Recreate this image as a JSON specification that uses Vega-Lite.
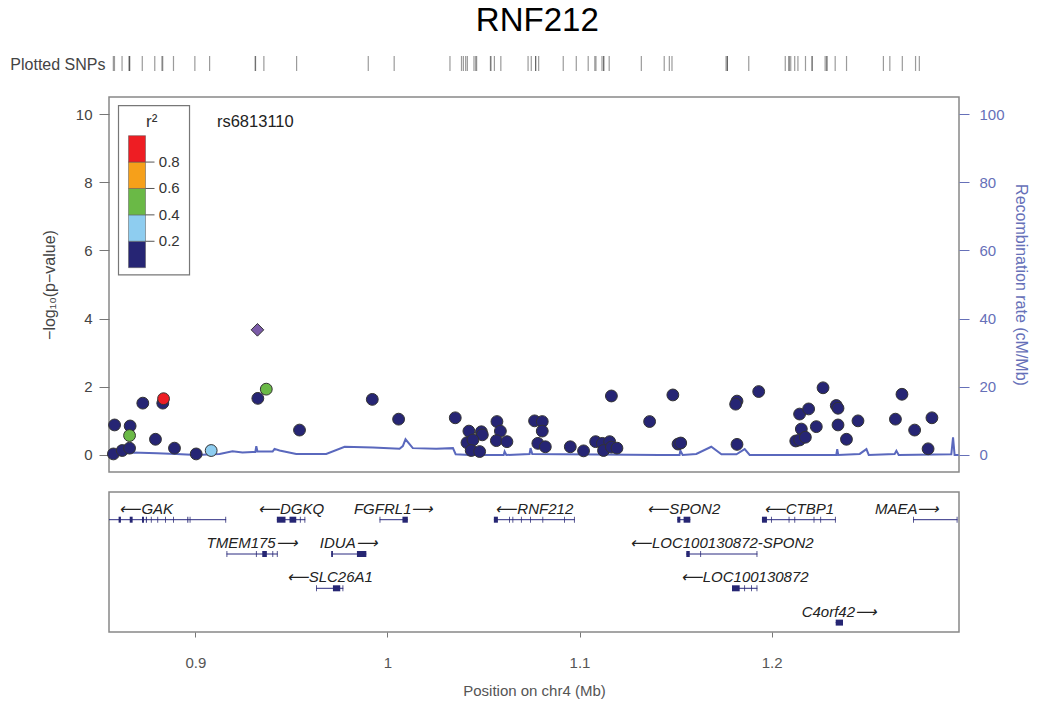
{
  "$schema": "https://vega.github.io/schema/vega-lite/v6.json",
  "padding": {"left": 9, "top": 5, "right": 5, "bottom": 5},
  "title": {"text": "RNF212", "fontSize": 33, "fontWeight": "normal", "anchor": "middle", "offset": 17, "dx": 18, "color": "#000000"},
  "spacing": 18,
  "datasets": {
    "snps": [
      {"pos": 0.8579, "logp": 0.88, "r2": 0.05},
      {"pos": 0.8573, "logp": 0.03, "r2": 0.05},
      {"pos": 0.8619, "logp": 0.13, "r2": 0.05},
      {"pos": 0.8657, "logp": 0.20, "r2": 0.05},
      {"pos": 0.8660, "logp": 0.85, "r2": 0.05},
      {"pos": 0.8657, "logp": 0.57, "r2": 0.5},
      {"pos": 0.8726, "logp": 1.52, "r2": 0.05},
      {"pos": 0.8830, "logp": 1.52, "r2": 0.05},
      {"pos": 0.8834, "logp": 1.65, "r2": 0.9},
      {"pos": 0.8792, "logp": 0.46, "r2": 0.05},
      {"pos": 0.8891, "logp": 0.20, "r2": 0.05},
      {"pos": 0.9004, "logp": 0.03, "r2": 0.05},
      {"pos": 0.9082, "logp": 0.13, "r2": 0.3},
      {"pos": 0.9325, "logp": 1.66, "r2": 0.05},
      {"pos": 0.9369, "logp": 1.93, "r2": 0.5},
      {"pos": 0.9542, "logp": 0.73, "r2": 0.05},
      {"pos": 0.9921, "logp": 1.63, "r2": 0.05},
      {"pos": 1.0058, "logp": 1.05, "r2": 0.05},
      {"pos": 1.0353, "logp": 1.09, "r2": 0.05},
      {"pos": 1.0424, "logp": 0.70, "r2": 0.05},
      {"pos": 1.0489, "logp": 0.68, "r2": 0.05},
      {"pos": 1.0494, "logp": 0.59, "r2": 0.05},
      {"pos": 1.0414, "logp": 0.36, "r2": 0.05},
      {"pos": 1.0445, "logp": 0.44, "r2": 0.05},
      {"pos": 1.0436, "logp": 0.13, "r2": 0.05},
      {"pos": 1.0480, "logp": 0.10, "r2": 0.05},
      {"pos": 1.0570, "logp": 0.98, "r2": 0.05},
      {"pos": 1.0588, "logp": 0.70, "r2": 0.05},
      {"pos": 1.0567, "logp": 0.42, "r2": 0.05},
      {"pos": 1.0622, "logp": 0.39, "r2": 0.05},
      {"pos": 1.0766, "logp": 1.00, "r2": 0.05},
      {"pos": 1.0806, "logp": 0.98, "r2": 0.05},
      {"pos": 1.0806, "logp": 0.70, "r2": 0.05},
      {"pos": 1.0783, "logp": 0.34, "r2": 0.05},
      {"pos": 1.0822, "logp": 0.24, "r2": 0.05},
      {"pos": 1.0952, "logp": 0.24, "r2": 0.05},
      {"pos": 1.1021, "logp": 0.12, "r2": 0.05},
      {"pos": 1.1084, "logp": 0.39, "r2": 0.05},
      {"pos": 1.1119, "logp": 0.34, "r2": 0.05},
      {"pos": 1.1157, "logp": 0.39, "r2": 0.05},
      {"pos": 1.1125, "logp": 0.13, "r2": 0.05},
      {"pos": 1.1166, "logp": 0.23, "r2": 0.05},
      {"pos": 1.1195, "logp": 0.20, "r2": 0.05},
      {"pos": 1.1166, "logp": 1.73, "r2": 0.05},
      {"pos": 1.1365, "logp": 0.98, "r2": 0.05},
      {"pos": 1.1486, "logp": 1.76, "r2": 0.05},
      {"pos": 1.1513, "logp": 0.32, "r2": 0.05},
      {"pos": 1.1527, "logp": 0.35, "r2": 0.05},
      {"pos": 1.1820, "logp": 1.58, "r2": 0.05},
      {"pos": 1.1813, "logp": 1.49, "r2": 0.05},
      {"pos": 1.1820, "logp": 0.31, "r2": 0.05},
      {"pos": 1.1933, "logp": 1.86, "r2": 0.05},
      {"pos": 1.2268, "logp": 1.97, "r2": 0.05},
      {"pos": 1.2146, "logp": 1.20, "r2": 0.05},
      {"pos": 1.2193, "logp": 1.35, "r2": 0.05},
      {"pos": 1.2268, "logp": 0.71, "r2": null},
      {"pos": 1.2155, "logp": 0.76, "r2": 0.05},
      {"pos": 1.2233, "logp": 0.83, "r2": 0.05},
      {"pos": 1.2126, "logp": 0.41, "r2": 0.05},
      {"pos": 1.2146, "logp": 0.44, "r2": 0.05},
      {"pos": 1.2176, "logp": 0.52, "r2": 0.05},
      {"pos": 1.2337, "logp": 1.45, "r2": 0.05},
      {"pos": 1.2346, "logp": 1.37, "r2": 0.05},
      {"pos": 1.2346, "logp": 0.88, "r2": 0.05},
      {"pos": 1.2390, "logp": 0.46, "r2": 0.05},
      {"pos": 1.2450, "logp": 1.00, "r2": 0.05},
      {"pos": 1.2679, "logp": 1.78, "r2": 0.05},
      {"pos": 1.2645, "logp": 1.05, "r2": 0.05},
      {"pos": 1.2745, "logp": 0.73, "r2": 0.05},
      {"pos": 1.2835, "logp": 1.09, "r2": 0.05},
      {"pos": 1.2815, "logp": 0.18, "r2": 0.05},
      {"pos": 0.9323, "logp": 3.67, "r2": 1, "lead": true, "snp": "rs6813110"}
    ],
    "recomb": [
      {"pos": 0.8550, "rate": 0.4}, {"pos": 0.8600, "rate": 0.6}, {"pos": 0.8672, "rate": 0.7},
      {"pos": 0.8800, "rate": 0.5}, {"pos": 0.8900, "rate": 0.3}, {"pos": 0.9004, "rate": 0.0},
      {"pos": 0.9126, "rate": 0.3}, {"pos": 0.9193, "rate": 1.1}, {"pos": 0.9245, "rate": 0.7},
      {"pos": 0.9297, "rate": 0.9}, {"pos": 0.9312, "rate": 0.9}, {"pos": 0.9317, "rate": 2.6},
      {"pos": 0.9323, "rate": 1.0}, {"pos": 0.9402, "rate": 1.0}, {"pos": 0.9412, "rate": 1.8},
      {"pos": 0.9438, "rate": 1.3}, {"pos": 0.9525, "rate": 0.3}, {"pos": 0.9681, "rate": 0.3},
      {"pos": 0.9777, "rate": 2.4}, {"pos": 0.9924, "rate": 2.2}, {"pos": 1.0063, "rate": 1.8},
      {"pos": 1.0080, "rate": 2.6}, {"pos": 1.0094, "rate": 4.6}, {"pos": 1.0132, "rate": 2.0},
      {"pos": 1.0254, "rate": 1.8}, {"pos": 1.0341, "rate": 2.0}, {"pos": 1.0355, "rate": 0.2},
      {"pos": 1.0428, "rate": 0.0}, {"pos": 1.0584, "rate": 0.0}, {"pos": 1.0605, "rate": 0.0},
      {"pos": 1.0610, "rate": 1.0}, {"pos": 1.0619, "rate": 0.0}, {"pos": 1.0740, "rate": 0.3},
      {"pos": 1.0745, "rate": 2.0}, {"pos": 1.0754, "rate": 0.3}, {"pos": 1.0896, "rate": 0.2},
      {"pos": 1.1104, "rate": 0.1}, {"pos": 1.1417, "rate": 0.0}, {"pos": 1.1521, "rate": 0.0},
      {"pos": 1.1525, "rate": 1.3}, {"pos": 1.1537, "rate": 0.0}, {"pos": 1.1608, "rate": 0.3},
      {"pos": 1.1686, "rate": 2.4}, {"pos": 1.1739, "rate": 0.2}, {"pos": 1.1817, "rate": 0.2},
      {"pos": 1.1860, "rate": 1.7}, {"pos": 1.1886, "rate": 0.0}, {"pos": 1.2025, "rate": 0.0},
      {"pos": 1.2337, "rate": 0.0}, {"pos": 1.2342, "rate": 1.7}, {"pos": 1.2347, "rate": 0.0},
      {"pos": 1.2459, "rate": 0.3}, {"pos": 1.2494, "rate": 1.7}, {"pos": 1.2506, "rate": 0.0},
      {"pos": 1.2641, "rate": 0.3}, {"pos": 1.2650, "rate": 1.2}, {"pos": 1.2662, "rate": 0.0},
      {"pos": 1.2936, "rate": 0.2}, {"pos": 1.2945, "rate": 5.2}, {"pos": 1.2953, "rate": 0.0},
      {"pos": 1.2974, "rate": 0.0}
    ],
    "ld": [
      {"lo": 0.0, "hi": 0.2},
      {"lo": 0.2, "hi": 0.4},
      {"lo": 0.4, "hi": 0.6},
      {"lo": 0.6, "hi": 0.8},
      {"lo": 0.8, "hi": 1.0}
    ],
    "genes": [
      {"gene": "GAK", "start": 0.8328, "end": 0.9160, "row": 1, "strand": "-"},
      {"gene": "DGKQ", "start": 0.9424, "end": 0.9572, "row": 1, "strand": "-"},
      {"gene": "FGFRL1", "start": 0.9959, "end": 1.0106, "row": 1, "strand": "+"},
      {"gene": "RNF212", "start": 1.0554, "end": 1.0975, "row": 1, "strand": "-"},
      {"gene": "SPON2", "start": 1.1509, "end": 1.1577, "row": 1, "strand": "-"},
      {"gene": "CTBP1", "start": 1.1950, "end": 1.2334, "row": 1, "strand": "-"},
      {"gene": "MAEA", "start": 1.2737, "end": 1.2968, "row": 1, "strand": "+"},
      {"gene": "TMEM175", "start": 0.9162, "end": 0.9428, "row": 2, "strand": "+"},
      {"gene": "IDUA", "start": 0.9707, "end": 0.9890, "row": 2, "strand": "+"},
      {"gene": "LOC100130872-SPON2", "start": 1.1556, "end": 1.1926, "row": 2, "strand": "-"},
      {"gene": "SLC26A1", "start": 0.9629, "end": 0.9770, "row": 3, "strand": "-"},
      {"gene": "LOC100130872", "start": 1.1794, "end": 1.1926, "row": 3, "strand": "-"},
      {"gene": "C4orf42", "start": 1.2334, "end": 1.2372, "row": 4, "strand": "+"}
    ],
    "exons": [
      {"gene": "GAK", "row": 1, "start": 0.8600, "end": 0.8612},
      {"gene": "GAK", "row": 1, "start": 0.8658, "end": 0.8673},
      {"gene": "GAK", "row": 1, "start": 0.8722, "end": 0.8732},
      {"gene": "GAK", "row": 1, "start": 0.8742, "end": 0.8747},
      {"gene": "GAK", "row": 1, "start": 0.8768, "end": 0.8772},
      {"gene": "GAK", "row": 1, "start": 0.8802, "end": 0.8806},
      {"gene": "GAK", "row": 1, "start": 0.8842, "end": 0.8846},
      {"gene": "GAK", "row": 1, "start": 0.8884, "end": 0.8888},
      {"gene": "GAK", "row": 1, "start": 0.8958, "end": 0.8963},
      {"gene": "GAK", "row": 1, "start": 0.8970, "end": 0.8974},
      {"gene": "GAK", "row": 1, "start": 0.9156, "end": 0.9160},
      {"gene": "DGKQ", "row": 1, "start": 0.9424, "end": 0.9469},
      {"gene": "DGKQ", "row": 1, "start": 0.9490, "end": 0.9525},
      {"gene": "DGKQ", "row": 1, "start": 0.9544, "end": 0.9548},
      {"gene": "DGKQ", "row": 1, "start": 0.9568, "end": 0.9572},
      {"gene": "FGFRL1", "row": 1, "start": 0.9959, "end": 0.9963},
      {"gene": "FGFRL1", "row": 1, "start": 1.0078, "end": 1.0106},
      {"gene": "RNF212", "row": 1, "start": 1.0554, "end": 1.0575},
      {"gene": "RNF212", "row": 1, "start": 1.0634, "end": 1.0638},
      {"gene": "RNF212", "row": 1, "start": 1.0651, "end": 1.0655},
      {"gene": "RNF212", "row": 1, "start": 1.0695, "end": 1.0699},
      {"gene": "RNF212", "row": 1, "start": 1.0743, "end": 1.0747},
      {"gene": "RNF212", "row": 1, "start": 1.0807, "end": 1.0811},
      {"gene": "RNF212", "row": 1, "start": 1.0920, "end": 1.0924},
      {"gene": "RNF212", "row": 1, "start": 1.0971, "end": 1.0975},
      {"gene": "SPON2", "row": 1, "start": 1.1509, "end": 1.1525},
      {"gene": "SPON2", "row": 1, "start": 1.1542, "end": 1.1577},
      {"gene": "CTBP1", "row": 1, "start": 1.1950, "end": 1.1976},
      {"gene": "CTBP1", "row": 1, "start": 1.1997, "end": 1.2001},
      {"gene": "CTBP1", "row": 1, "start": 1.2089, "end": 1.2093},
      {"gene": "CTBP1", "row": 1, "start": 1.2119, "end": 1.2123},
      {"gene": "CTBP1", "row": 1, "start": 1.2219, "end": 1.2223},
      {"gene": "CTBP1", "row": 1, "start": 1.2254, "end": 1.2258},
      {"gene": "CTBP1", "row": 1, "start": 1.2330, "end": 1.2334},
      {"gene": "MAEA", "row": 1, "start": 1.2737, "end": 1.2741},
      {"gene": "MAEA", "row": 1, "start": 1.2964, "end": 1.2968},
      {"gene": "TMEM175", "row": 2, "start": 0.9162, "end": 0.9166},
      {"gene": "TMEM175", "row": 2, "start": 0.9315, "end": 0.9319},
      {"gene": "TMEM175", "row": 2, "start": 0.9348, "end": 0.9372},
      {"gene": "TMEM175", "row": 2, "start": 0.9401, "end": 0.9405},
      {"gene": "TMEM175", "row": 2, "start": 0.9424, "end": 0.9428},
      {"gene": "IDUA", "row": 2, "start": 0.9707, "end": 0.9716},
      {"gene": "IDUA", "row": 2, "start": 0.9841, "end": 0.9890},
      {"gene": "LOC100130872-SPON2", "row": 2, "start": 1.1556, "end": 1.1574},
      {"gene": "LOC100130872-SPON2", "row": 2, "start": 1.1629, "end": 1.1633},
      {"gene": "LOC100130872-SPON2", "row": 2, "start": 1.1922, "end": 1.1926},
      {"gene": "SLC26A1", "row": 3, "start": 0.9629, "end": 0.9633},
      {"gene": "SLC26A1", "row": 3, "start": 0.9716, "end": 0.9754},
      {"gene": "SLC26A1", "row": 3, "start": 0.9766, "end": 0.9770},
      {"gene": "LOC100130872", "row": 3, "start": 1.1794, "end": 1.1834},
      {"gene": "LOC100130872", "row": 3, "start": 1.1858, "end": 1.1862},
      {"gene": "LOC100130872", "row": 3, "start": 1.1893, "end": 1.1897},
      {"gene": "LOC100130872", "row": 3, "start": 1.1922, "end": 1.1926},
      {"gene": "C4orf42", "row": 4, "start": 1.2334, "end": 1.2372}
    ]
  },
  "vconcat": [
    {
      "width": 837,
      "height": 22,
      "view": {"stroke": null},
      "data": {"name": "snps"},
      "mark": {"type": "rule", "color": "#222222", "opacity": 0.45, "strokeWidth": 1.2},
      "encoding": {
        "x": {"field": "pos", "type": "quantitative", "scale": {"domain": [0.855, 1.2976], "nice": false, "zero": false}, "axis": null},
        "y": {"datum": 1, "type": "quantitative", "scale": {"domain": [0, 1], "nice": false, "zero": false},
          "axis": {"title": "Plotted SNPs", "values": [], "domain": false, "ticks": false, "labels": false, "titleAngle": 0, "titleAlign": "right", "titleBaseline": "middle", "titleX": -4, "titleY": 8, "titleFontSize": 16, "titleColor": "#444444"}},
        "y2": {"datum": 0.32}
      }
    },
    {
      "width": 850,
      "height": 375,
      "layer": [
        {
          "data": {"name": "recomb"},
          "mark": {"type": "line", "color": "#5a68bd", "strokeWidth": 2},
          "encoding": {
            "x": {"field": "pos", "type": "quantitative", "scale": {"domain": [0.855, 1.2976], "nice": false, "zero": false}, "axis": null},
            "y": {"field": "rate", "type": "quantitative", "scale": {"domain": [-5, 105], "nice": false, "zero": false},
              "axis": {"orient": "right", "values": [0, 20, 40, 60, 80, 100], "title": "Recombination rate (cM/Mb)", "labelColor": "#6670b8", "titleColor": "#6670b8", "tickColor": "#6670b8", "tickSize": 10, "labelPadding": 10, "titlePadding": 8, "titleFontSize": 16}}
          }
        },
        {
          "data": {"name": "snps"},
          "transform": [{"filter": "!datum.lead"}],
          "mark": {"type": "circle", "size": 140, "opacity": 1, "stroke": "#333333", "strokeWidth": 1},
          "encoding": {
            "x": {"field": "pos", "type": "quantitative"},
            "y": {"field": "logp", "type": "quantitative", "scale": {"domain": [-0.5, 10.5], "nice": false, "zero": false},
              "axis": {"orient": "left", "values": [0, 2, 4, 6, 8, 10], "title": "−log₁₀(p−value)", "tickSize": 10, "labelPadding": 7, "titlePadding": 18, "titleFontSize": 16}},
            "color": {
              "condition": {"test": "datum.r2 === null", "value": "#7f7f7f"},
              "field": "r2", "type": "quantitative",
              "scale": {"type": "threshold", "domain": [0.2, 0.4, 0.6, 0.8], "range": ["#262574", "#8ecdf0", "#6ab946", "#f6a01a", "#ee1d23"]},
              "legend": null
            }
          }
        },
        {
          "data": {"name": "snps"},
          "transform": [{"filter": "datum.lead"}],
          "mark": {"type": "point", "shape": "diamond", "filled": true, "size": 160, "color": "#7b5ba8", "stroke": "#333333", "strokeWidth": 1, "opacity": 1},
          "encoding": {
            "x": {"field": "pos", "type": "quantitative"},
            "y": {"field": "logp", "type": "quantitative", "scale": {"domain": [-0.5, 10.5], "nice": false, "zero": false}, "axis": null}
          }
        },
        {
          "data": {"name": "snps"},
          "transform": [{"filter": "datum.lead"}],
          "mark": {"type": "text", "align": "left", "baseline": "middle", "fontSize": 16.5, "color": "#222222"},
          "encoding": {
            "x": {"datum": 0.9112, "type": "quantitative"},
            "y": {"datum": 9.77, "type": "quantitative", "scale": {"domain": [-0.5, 10.5], "nice": false, "zero": false}, "axis": null},
            "text": {"field": "snp"}
          }
        },
        {
          "data": {"values": [{}]},
          "mark": {"type": "rect", "fill": "#ffffff", "stroke": "#777777", "strokeWidth": 1.2},
          "encoding": {
            "x": {"datum": 0.85995, "type": "quantitative"},
            "x2": {"datum": 0.89693},
            "y": {"datum": 1.227, "type": "quantitative", "scale": {"domain": [-1.548, 1.293], "nice": false, "zero": false}, "axis": null},
            "y2": {"datum": -0.055}
          }
        },
        {
          "data": {"name": "ld"},
          "mark": {"type": "rect", "stroke": "#555555", "strokeWidth": 0.5},
          "encoding": {
            "x": {"datum": 0.86516, "type": "quantitative"},
            "x2": {"datum": 0.87401},
            "y": {"field": "hi", "type": "quantitative", "scale": {"domain": [-1.548, 1.293], "nice": false, "zero": false}, "axis": null},
            "y2": {"field": "lo"},
            "color": {"field": "lo", "type": "quantitative",
              "scale": {"type": "threshold", "domain": [0.2, 0.4, 0.6, 0.8], "range": ["#262574", "#8ecdf0", "#6ab946", "#f6a01a", "#ee1d23"]},
              "legend": null}
          }
        },
        {
          "data": {"name": "ld"},
          "transform": [{"filter": "datum.lo > 0"}],
          "mark": {"type": "rule", "color": "#555555", "strokeWidth": 1},
          "encoding": {
            "x": {"datum": 0.87401, "type": "quantitative"},
            "x2": {"datum": 0.8787},
            "y": {"field": "lo", "type": "quantitative", "scale": {"domain": [-1.548, 1.293], "nice": false, "zero": false}, "axis": null}
          }
        },
        {
          "data": {"name": "ld"},
          "transform": [{"filter": "datum.lo > 0"}],
          "mark": {"type": "text", "align": "left", "baseline": "middle", "fontSize": 15, "color": "#333333"},
          "encoding": {
            "x": {"datum": 0.88094, "type": "quantitative"},
            "y": {"field": "lo", "type": "quantitative", "scale": {"domain": [-1.548, 1.293], "nice": false, "zero": false}, "axis": null},
            "text": {"field": "lo", "type": "quantitative", "format": ".1f"}
          }
        },
        {
          "data": {"values": [{}]},
          "mark": {"type": "text", "align": "center", "baseline": "middle", "fontSize": 17, "color": "#333333", "text": "r²"},
          "encoding": {
            "x": {"datum": 0.8772, "type": "quantitative"},
            "y": {"datum": 1.106, "type": "quantitative", "scale": {"domain": [-1.548, 1.293], "nice": false, "zero": false}, "axis": null}
          }
        }
      ],
      "resolve": {"scale": {"y": "independent"}}
    },
    {
      "width": 850,
      "height": 140,
      "layer": [
        {
          "data": {"name": "genes"},
          "mark": {"type": "rule", "color": "#2b2b80", "strokeWidth": 1, "clip": true},
          "encoding": {
            "x": {"field": "start", "type": "quantitative", "scale": {"domain": [0.855, 1.2976], "nice": false, "zero": false},
              "axis": {"values": [0.9, 1, 1.1, 1.2], "format": ".2~f", "title": "Position on chr4 (Mb)", "tickSize": 5, "labelPadding": 18, "titlePadding": 13, "labelColor": "#555555", "titleColor": "#555555"}},
            "x2": {"field": "end"},
            "y": {"field": "row", "type": "quantitative", "scale": {"domain": [0.1924, 4.274], "reverse": true, "nice": false, "zero": false}, "axis": null}
          }
        },
        {
          "data": {"name": "exons"},
          "mark": {"type": "rule", "color": "#262673", "strokeWidth": 6, "strokeCap": "butt", "clip": true},
          "encoding": {
            "x": {"field": "start", "type": "quantitative"},
            "x2": {"field": "end"},
            "y": {"field": "row", "type": "quantitative"}
          }
        },
        {
          "data": {"name": "genes"},
          "transform": [
            {"calculate": "datum.strand == '-' ? '⟵' + datum.gene : datum.gene + '⟶'", "as": "label"},
            {"calculate": "min((datum.start + datum.end) / 2, 1.2706)", "as": "mid"}
          ],
          "mark": {"type": "text", "align": "center", "baseline": "middle", "dy": -11, "fontSize": 15, "fontStyle": "italic", "color": "#222222"},
          "encoding": {
            "x": {"field": "mid", "type": "quantitative"},
            "y": {"field": "row", "type": "quantitative"},
            "text": {"field": "label"}
          }
        }
      ]
    }
  ],
  "config": {
    "font": "Liberation Sans",
    "view": {"stroke": "#888888", "strokeWidth": 1.5},
    "axis": {"labelFontSize": 15, "titleFontSize": 15, "titleFontWeight": "normal", "labelColor": "#444444", "titleColor": "#444444", "tickColor": "#777777", "domain": false, "grid": false}
  }
}
